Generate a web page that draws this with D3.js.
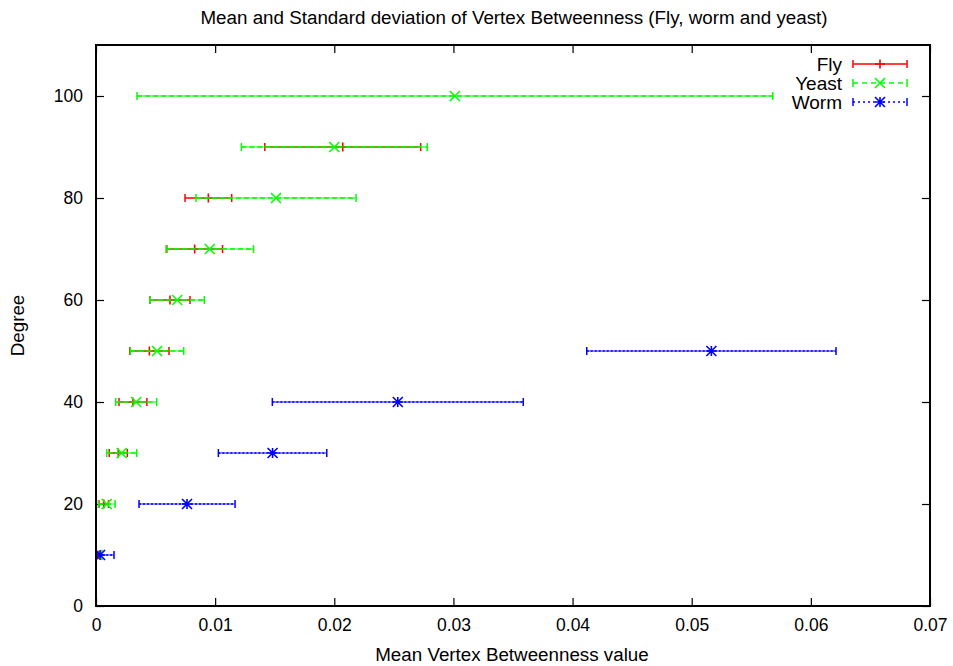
<!DOCTYPE html>
<html>
<head>
<meta charset="utf-8">
<script src="https://cdn.jsdelivr.net/npm/d3@7/dist/d3.min.js"></script>
<style>
  html, body { margin: 0; padding: 0; background: #fff; }
  svg text { font-family: "Liberation Sans", Arial, sans-serif; fill: #000; }
</style>
</head>
<body>
<svg id="chart" width="953" height="666"></svg>
<script>
// Degree buckets and per-organism mean / standard deviation of vertex betweenness
const flyDegree  = [10, 20, 30, 40, 50, 60, 70, 80, 90];
const flyMean    = [0.00012, 0.00065, 0.00187, 0.0031, 0.00448, 0.00621, 0.00828, 0.00943, 0.02071];
const flySd      = [0.0001, 0.0004, 0.00076, 0.00117, 0.00165, 0.00168, 0.00234, 0.00196, 0.00654];

const yeastDegree = [10, 20, 30, 40, 50, 60, 70, 80, 90, 100];
const yeastMean   = [0.00014, 0.0009, 0.00216, 0.00337, 0.00512, 0.00681, 0.00955, 0.01511, 0.02, 0.03012];
const yeastSd     = [0.0003, 0.0007, 0.00126, 0.00172, 0.00224, 0.00228, 0.00367, 0.00672, 0.0078, 0.02668];

const wormDegree = [10, 20, 30, 40, 50];
const wormMean   = [0.00034, 0.00764, 0.01482, 0.02533, 0.05165];
const wormSd     = [0.00117, 0.00403, 0.00455, 0.01053, 0.01046];

const xTicks = [0, 0.01, 0.02, 0.03, 0.04, 0.05, 0.06, 0.07];
const yTicks = [0, 20, 40, 60, 80, 100];

const seriesNames = ["Fly", "Yeast", "Worm"];

const svg = d3.select("#chart");
const margin = { left: 96, right: 23, top: 45, bottom: 60 };
const W = 953, H = 666;
const x = d3.scaleLinear().domain([0, 0.07]).range([margin.left, W - margin.right]);
const y = d3.scaleLinear().domain([0, 110]).range([H - margin.bottom, margin.top]);

const series = [
  { name: seriesNames[0], color: "#ff0000", dash: null, keyDash: null, marker: "plus",
    pts: flyDegree.map((d, i) => ({ d, m: flyMean[i], s: flySd[i] })) },
  { name: seriesNames[1], color: "#00ff00", dash: "5,3", keyDash: "5,4", marker: "cross",
    pts: yeastDegree.map((d, i) => ({ d, m: yeastMean[i], s: yeastSd[i] })) },
  { name: seriesNames[2], color: "#0000ff", dash: "2,2", keyDash: "2,3", marker: "star",
    pts: wormDegree.map((d, i) => ({ d, m: wormMean[i], s: wormSd[i] })) }
];

svg.append("defs").append("clipPath").attr("id", "plotClip")
  .append("rect")
  .attr("x", x(0)).attr("y", y(110))
  .attr("width", x(0.07) - x(0)).attr("height", y(0) - y(110));

// Axes with inward ticks on all four sides
const tickLen = 8;
const axes = svg.append("g");
const xBottom = axes.append("g").attr("transform", `translate(0,${y(0)})`)
  .call(d3.axisBottom(x).tickValues(xTicks).tickSizeInner(-tickLen).tickSizeOuter(0)
    .tickFormat(d => d === 0 ? "0" : d3.format(".2f")(d)));
axes.append("g").attr("transform", `translate(0,${y(110)})`)
  .call(d3.axisTop(x).tickValues(xTicks).tickSizeInner(-tickLen).tickSizeOuter(0).tickFormat(""));
const yLeft = axes.append("g").attr("transform", `translate(${x(0)},0)`)
  .call(d3.axisLeft(y).tickValues(yTicks).tickSizeInner(-tickLen).tickSizeOuter(0));
axes.append("g").attr("transform", `translate(${x(0.07)},0)`)
  .call(d3.axisRight(y).tickValues(yTicks).tickSizeInner(-tickLen).tickSizeOuter(0).tickFormat(""));

axes.selectAll(".domain").remove();
axes.selectAll(".tick line").attr("stroke", "#000").attr("stroke-width", 1.2);
xBottom.selectAll(".tick text").attr("y", 13).attr("dy", "0.71em")
  .style("font-size", "17.5px").attr("font-family", null);
yLeft.selectAll(".tick text").attr("x", -13).style("font-size", "17.5px").attr("font-family", null);
axes.attr("font-family", null);

// Error bars
const cap = 4;
const plot = svg.append("g").attr("clip-path", "url(#plotClip)");

function marker(g, type, cx, cy, color) {
  const r = 5, v = 4.5;
  let p = "";
  if (type === "plus") p = `M${cx - r},${cy}H${cx + r}M${cx},${cy - v}V${cy + v}`;
  if (type === "cross") p = `M${cx - r},${cy - r}L${cx + r},${cy + r}M${cx - r},${cy + r}L${cx + r},${cy - r}`;
  if (type === "star") p = `M${cx - r},${cy - r}L${cx + r},${cy + r}M${cx - r},${cy + r}L${cx + r},${cy - r}M${cx},${cy - r}V${cy + r}M${cx - r},${cy}H${cx + r}`;
  g.append("path").attr("d", p).attr("stroke", color).attr("stroke-width", 1.6).attr("fill", "none");
}

series.forEach(s => {
  const g = plot.append("g");
  s.pts.forEach(p => {
    const lo = x(p.m - p.s), hi = x(p.m + p.s), cy = y(p.d), cx = x(p.m);
    // faint continuous stroke beneath the patterned bar
    g.append("line").attr("x1", lo).attr("x2", hi).attr("y1", cy).attr("y2", cy)
      .attr("stroke", s.color).attr("stroke-width", 1.5)
      .attr("stroke-opacity", s.dash ? 0.6 : 1);
    if (s.dash) {
      g.append("line").attr("x1", lo).attr("x2", hi).attr("y1", cy).attr("y2", cy)
        .attr("stroke", s.color).attr("stroke-width", 1.5).attr("stroke-dasharray", s.dash);
    }
    [lo, hi].forEach(ex => g.append("line").attr("x1", ex).attr("x2", ex)
      .attr("y1", cy - cap).attr("y2", cy + cap).attr("stroke", s.color).attr("stroke-width", 1.5));
    marker(g, s.marker, cx, cy, s.color);
  });
});

// Plot frame
svg.append("rect")
  .attr("x", x(0)).attr("y", y(110))
  .attr("width", x(0.07) - x(0)).attr("height", y(0) - y(110))
  .attr("fill", "none").attr("stroke", "#000").attr("stroke-width", 2);

// Legend
const legend = svg.append("g");
series.forEach((s, i) => {
  const ly = 64 + i * 19;
  const x1 = 853, x2 = 907;
  legend.append("text").attr("x", 842).attr("y", ly).attr("dy", "0.36em")
    .attr("text-anchor", "end").style("font-size", "19px").text(s.name);
  legend.append("line").attr("x1", x1).attr("x2", x2).attr("y1", ly).attr("y2", ly)
    .attr("stroke", s.color).attr("stroke-width", 1.5).attr("stroke-dasharray", s.keyDash);
  [x1, x2].forEach(ex => legend.append("line").attr("x1", ex).attr("x2", ex)
    .attr("y1", ly - cap).attr("y2", ly + cap).attr("stroke", s.color).attr("stroke-width", 1.5));
  marker(legend, s.marker, (x1 + x2) / 2, ly, s.color);
});

// Titles
svg.append("text").attr("x", 514).attr("y", 24).attr("text-anchor", "middle")
  .style("font-size", "18.8px").text("Mean and Standard deviation of Vertex Betweenness (Fly, worm and yeast)");
svg.append("text").attr("x", 512).attr("y", 661).attr("text-anchor", "middle")
  .style("font-size", "18.8px").text("Mean Vertex Betweenness value");
svg.append("text").attr("transform", `translate(24,${y(55)}) rotate(-90)`).attr("text-anchor", "middle")
  .style("font-size", "18.8px").text("Degree");
</script>
</body>
</html>
